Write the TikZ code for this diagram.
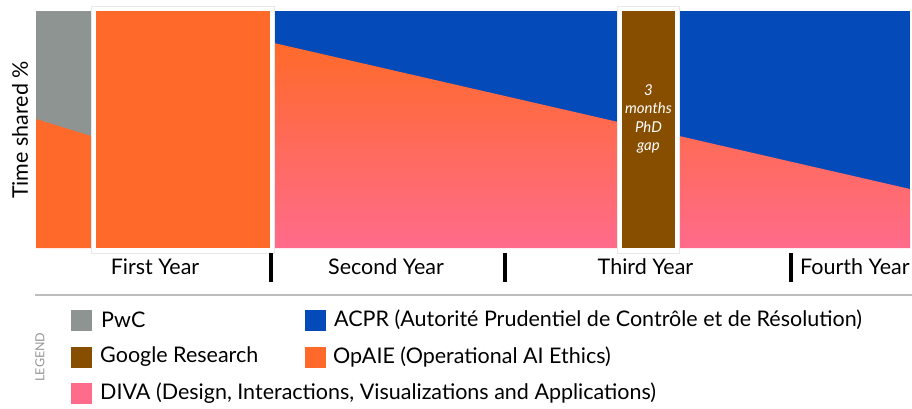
\documentclass[tikz,border=0pt]{standalone}
\usepackage{fontspec}
\setmainfont{Lato}
\definecolor{cgray}{RGB}{142,148,146}
\definecolor{cblue}{RGB}{4,74,184}
\definecolor{corange}{RGB}{255,106,42}
\definecolor{cbrown}{RGB}{135,78,0}
\definecolor{cpink}{RGB}{255,107,139}
\definecolor{cframe}{RGB}{232,232,232}
\definecolor{csep}{RGB}{190,190,190}
\definecolor{clegend}{RGB}{150,150,150}
\begin{document}
\begin{tikzpicture}[x=1pt,y=-1pt,
  yearlbl/.style={font=\fontsize{21.5}{24}\selectfont, inner sep=0pt},
  legtxt/.style={font=\fontsize{21.5}{24}\selectfont, anchor=west, inner sep=0pt},
  swatch/.style={minimum width=22pt, minimum height=22pt, inner sep=0pt, draw=white, line width=0.6pt},
  frame/.style={fill=white, draw=cframe, line width=0.8pt},
  tick/.style={line width=4pt, black}]
\useasboundingbox (0,0) rectangle (912,408);
% PwC segment
\fill[cgray] (36,11) rectangle (91,248);
\fill[corange] (36,119) -- (91,136) -- (91,248) -- (36,248) -- cycle;
% ACPR segment
\fill[cblue] (274,11) rectangle (910,248);
\shade[top color=corange, bottom color=cpink] (274,43) -- (910,189) -- (910,248) -- (274,248) -- cycle;
% First year box
\draw[frame] (91,6) rectangle (274,253);
\fill[corange] (95.5,11) rectangle (269.5,248);
% Google gap
\draw[frame] (617,6) rectangle (679,253);
\fill[cbrown] (622,11) rectangle (675,248);
\node[align=center, text=white, font=\fontsize{15}{18.3}\selectfont\itshape] (gap) at (648.5,119) {3\\months\\PhD\\gap};
% axis label
\node[rotate=90, font=\fontsize{21.5}{24}\selectfont] (ylab) at (20,130) {Time shared \%};
% year labels and ticks
\node[yearlbl] (y1) at (155,267) {First Year};
\node[yearlbl] (y2) at (386,267) {Second Year};
\node[yearlbl] (y3) at (645.5,267) {Third Year};
\node[yearlbl, anchor=west] (y4) at (800,267) {Fourth Year};
\draw[tick] (271,253) -- (271,282);
\draw[tick] (505,253) -- (505,282);
\draw[tick] (791,253) -- (791,282);
% separator
\draw[csep, line width=1.3pt] (35,295) -- (912,295);
% legend
\node[rotate=90, text=clegend, font=\fontsize{12.5}{14}\selectfont] (legtitle) at (40,357) {LEGEND};
\node[swatch, fill=cgray] (s1) at (81,320) {};
\node[legtxt] (t1) at (101,320) {PwC};
\node[swatch, fill=cbrown] (s2) at (81,357) {};
\node[legtxt] (t2) at (100,357) {Google Research};
\node[swatch, fill=cpink] (s3) at (81,393) {};
\node[legtxt] (t3) at (100,393) {DIVA (Design, Interactions, Visualizations and Applications)};
\node[swatch, fill=cblue] (s4) at (315,320) {};
\node[legtxt] (t4) at (334,320) {ACPR (Autorité Prudentiel de Contrôle et de Résolution)};
\node[swatch, fill=corange] (s5) at (315,357) {};
\node[legtxt] (t5) at (333,357) {OpAIE (Operational AI Ethics)};
\end{tikzpicture}
\end{document}
